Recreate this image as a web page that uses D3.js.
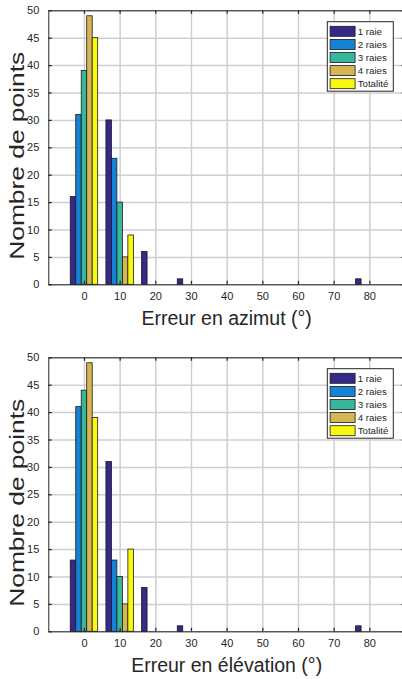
<!DOCTYPE html>
<html>
<head>
<meta charset="utf-8">
<script src="https://cdn.jsdelivr.net/npm/d3@7"></script>
<style>
  body { margin: 0; background: #fff; }
  svg { display: block; font-family: "Liberation Sans", Arial, Helvetica, sans-serif; }
  .tick text { fill: #262626; font-size: 11px; }
  .axis-title { fill: #262626; font-size: 19.5px; }
  .legend text { fill: #262626; font-size: 9.7px; }
</style>
</head>
<body>
<div id="graphic"></div>
<script>
// bin centres (degrees)
const bins = [0, 10, 20, 30, 40, 50, 60, 70, 80];
const seriesNames = ['1 raie', '2 raies', '3 raies', '4 raies', 'Totalité'];
const colours = ['#352a87', '#1682d6', '#38b79c', '#d6b652', '#f8f910'];

// counts per bin, one array per series
const azimut1 = [16, 30, 6, 1, 0, 0, 0, 0, 1];
const azimut2 = [31, 23, 0, 0, 0, 0, 0, 0, 0];
const azimut3 = [39, 15, 0, 0, 0, 0, 0, 0, 0];
const azimut4 = [49, 5, 0, 0, 0, 0, 0, 0, 0];
const azimutAll = [45, 9, 0, 0, 0, 0, 0, 0, 0];

const elev1 = [13, 31, 8, 1, 0, 0, 0, 0, 1];
const elev2 = [41, 13, 0, 0, 0, 0, 0, 0, 0];
const elev3 = [44, 10, 0, 0, 0, 0, 0, 0, 0];
const elev4 = [49, 5, 0, 0, 0, 0, 0, 0, 0];
const elevAll = [39, 15, 0, 0, 0, 0, 0, 0, 0];

const xTicks = [0, 10, 20, 30, 40, 50, 60, 70, 80];
const yTicks = [0, 5, 10, 15, 20, 25, 30, 35, 40, 45, 50];

const panels = [
  { title: 'Erreur en azimut (°)', top: 10.3, series: [azimut1, azimut2, azimut3, azimut4, azimutAll] },
  { title: 'Erreur en élévation (°)', top: 357.3, series: [elev1, elev2, elev3, elev4, elevAll] }
];

const W = 402, H = 679;
const left = 48.3, plotW = 356.7, plotH = 274;
const tickLen = 3.5;

const svg = d3.select('#graphic').append('svg')
  .attr('width', W).attr('height', H);

function drawPanel(p) {
  const g = svg.append('g').attr('transform', `translate(${left},${p.top})`);

  const x = d3.scaleLinear().domain([-10, 90]).range([0, plotW]);
  const y = d3.scaleLinear().domain([0, 50]).range([plotH, 0]);

  // groups take 0.769 of bin spacing, split between the 5 series
  const groupW = 10 * 5 / 6.5;
  const inner = d3.scaleBand().domain(d3.range(seriesNames.length)).range([-groupW / 2, groupW / 2]);

  // grid lines, drawn with the axis generators
  g.append('g').attr('class', 'grid')
    .attr('transform', `translate(0,${plotH})`)
    .call(d3.axisBottom(x).tickValues(xTicks).tickSize(-plotH).tickFormat(''))
    .call(s => s.select('.domain').remove())
    .selectAll('line').attr('stroke', '#cfcfcf').attr('stroke-width', 1.5);
  g.append('g').attr('class', 'grid')
    .call(d3.axisLeft(y).tickValues(yTicks).tickSize(-plotW).tickFormat(''))
    .call(s => s.select('.domain').remove())
    .selectAll('line').attr('stroke', '#cfcfcf').attr('stroke-width', 1.5);

  // bars
  const rows = [];
  p.series.forEach((vals, si) => {
    vals.forEach((v, bi) => rows.push({ si, bin: bins[bi], v }));
  });
  g.append('g').selectAll('rect').data(rows).join('rect')
    .attr('x', d => x(d.bin + inner(d.si)))
    .attr('width', d => x(d.bin + inner(d.si) + inner.bandwidth()) - x(d.bin + inner(d.si)))
    .attr('y', d => y(d.v))
    .attr('height', d => y(0) - y(d.v))
    .attr('fill', d => colours[d.si])
    .attr('stroke', d => d.v === 0 ? '#8a8a8a' : '#1a1a1a')
    .attr('stroke-width', 0.8);

  // axes (box on, ticks inside)
  const bottom = g.append('g').attr('transform', `translate(0,${plotH})`)
    .call(d3.axisBottom(x).tickValues(xTicks).tickSizeInner(-tickLen).tickSizeOuter(0).tickPadding(8));
  const topAx = g.append('g')
    .call(d3.axisTop(x).tickValues(xTicks).tickSizeInner(-tickLen).tickSizeOuter(0).tickFormat(''));
  const leftAx = g.append('g')
    .call(d3.axisLeft(y).tickValues(yTicks).tickSizeInner(-tickLen).tickSizeOuter(0).tickPadding(9));
  const rightAx = g.append('g').attr('transform', `translate(${plotW},0)`)
    .call(d3.axisRight(y).tickValues(yTicks).tickSizeInner(-tickLen).tickSizeOuter(0).tickFormat(''));
  [bottom, topAx, leftAx, rightAx].forEach(a => {
    a.select('.domain').attr('stroke', '#262626').attr('stroke-width', 1);
    a.selectAll('.tick line').attr('stroke', '#262626').attr('stroke-width', 1.2);
    a.selectAll('.tick text').attr('font-family', null).attr('font-size', null);
  });

  // axis titles
  g.append('text').attr('class', 'axis-title')
    .attr('x', x(40)).attr('y', plotH + 40.5)
    .attr('text-anchor', 'middle')
    .text(p.title);
  g.append('text').attr('class', 'axis-title')
    .attr('transform', `translate(${24 - left},${145.5}) rotate(-90)`)
    .attr('text-anchor', 'middle')
    .attr('textLength', 208)
    .attr('lengthAdjust', 'spacingAndGlyphs')
    .text('Nombre de points');

  // legend
  const lg = g.append('g').attr('class', 'legend').attr('transform', `translate(${327.3 - left},11.4)`);
  lg.append('rect').attr('width', 66).attr('height', 69.5)
    .attr('fill', '#fff').attr('stroke', '#262626').attr('stroke-width', 1);
  const item = lg.selectAll('g.item').data(seriesNames).join('g')
    .attr('class', 'item')
    .attr('transform', (d, i) => `translate(0,${9.6 + i * 13.1})`);
  item.append('rect')
    .attr('x', 2.8).attr('y', -5).attr('width', 25).attr('height', 10)
    .attr('fill', (d, i) => colours[i]).attr('stroke', '#1a1a1a').attr('stroke-width', 0.8);
  item.append('text')
    .attr('x', 30.4).attr('y', 3.4)
    .text(d => d);
}

panels.forEach(drawPanel);
</script>
</body>
</html>
